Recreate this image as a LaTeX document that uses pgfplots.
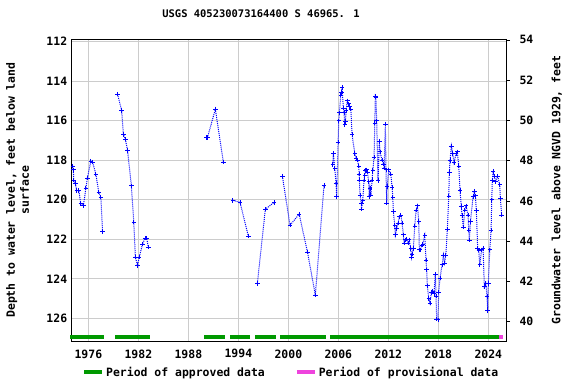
\documentclass[border=0pt]{standalone}
\usepackage{pgfplots}
\pgfplotsset{compat=1.18}
\usepackage{fontspec}
\setmainfont{DejaVu Sans Mono}
\setmonofont{DejaVu Sans Mono}
\definecolor{gridgray}{RGB}{204,204,204}
\definecolor{appgreen}{RGB}{0,153,0}
\definecolor{provpink}{RGB}{238,68,221}
\pgfplotsset{dataline/.style={blue, densely dotted, line width=1bp, mark=+, mark size=2.2bp, mark options={solid, line width=0.9bp}, forget plot}}
\begin{document}
\begin{tikzpicture}[x=1bp,y=1bp]
\useasboundingbox (0,0) rectangle (576,384);
\begin{axis}[
  at={(71.7bp,43bp)}, anchor=south west,
  scale only axis, width=434.3bp, height=301.7bp,
  xmin=1974.0, xmax=2026.12,
  ymin=111.88, ymax=127.15, y dir=reverse,
  xtick={1976,1982,...,2024},
  ytick={112,114,...,126},
  grid=major, grid style={gridgray, line width=0.8bp},
  axis line style={black, line width=1bp},
  tick align=outside, major tick length=0pt,
  /pgf/number format/assume math mode=true,
  /pgf/number format/1000 sep={},
  tick label style={font=\fontsize{11.5}{12}\selectfont\bfseries},
  xticklabel style={yshift=-5bp},
  yticklabel style={xshift=-1bp},
  ylabel={Depth to water level, feet below land\\surface},
  ylabel style={align=center, font=\fontsize{11.5}{14}\selectfont\bfseries, at={(axis description cs:-0.09,0.5)}},
  title={USGS 405230073164400 S 46965. 1},
  title style={font=\fontsize{10.5}{12}\selectfont\bfseries, at={(axis description cs:0.436,1)}, anchor=center, yshift=20bp},
  clip=false,
  legend columns=2,
  legend style={draw=none, fill=none, at={(axis description cs:0.0237,-0.104)}, anchor=west, font=\fontsize{11.5}{12}\selectfont\bfseries, inner sep=0pt, /tikz/every even column/.append style={column sep=28bp}},
  legend image code/.code={\draw[#1, solid, line width=4bp] (0bp,0bp) -- (18bp,0bp);},
  unbounded coords=jump,
]
% approved periods
\addplot[appgreen, solid, line width=4bp, mark=none, forget plot] coordinates {
(1973.8,126.95) (1977.9,126.95) (1978,nan)
(1979.2,126.95) (1983.4,126.95) (1984,nan)
(1989.9,126.95) (1992.4,126.95) (1992.7,nan)
(1993.0,126.95) (1995.4,126.95) (1995.7,nan)
(1996.0,126.95) (1998.5,126.95) (1998.7,nan)
(1999.0,126.95) (2004.5,126.95) (2004.7,nan)
(2005.0,126.95) (2025.3,126.95)
};
\addplot[provpink, solid, line width=4bp, mark=none, forget plot] coordinates {
(2025.3,126.95) (2025.7,126.95)
};
\addlegendimage{appgreen}
\addlegendentry{Period of approved data}
\addlegendimage{provpink}
\addlegendentry{Period of provisional data}
\addplot[dataline] coordinates {
(1974.13,118.29) (1974.2,118.49) (1974.25,119.0) (1974.44,119.17) (1974.6,119.54) (1974.85,119.54) (1975.1,120.21) (1975.4,120.31) (1975.7,119.42) (1975.88,118.91) (1976.3,118.04) (1976.5,118.09) (1976.9,118.71) (1977.25,119.62) (1977.5,119.87) (1977.7,121.6)
};
\addplot[dataline] coordinates {
(1979.5,114.65) (1980.0,115.49) (1980.2,116.69) (1980.44,116.94) (1980.7,117.5) (1981.16,119.29) (1981.45,121.14) (1981.64,122.91) (1981.9,123.32) (1982.1,122.91) (1982.5,122.25) (1982.8,121.95) (1983.0,121.95) (1983.2,122.4)
};
\addplot[dataline] coordinates {
(1990.2,116.84) (1990.3,116.84) (1991.24,115.42) (1992.2,118.1)
};
\addplot[dataline] coordinates {
(1993.33,120.03) (1994.2,120.13) (1995.2,121.85)
};
\addplot[dataline] coordinates {
(1996.28,124.23) (1997.24,120.48) (1998.3,120.13)
};
\addplot[dataline] coordinates {
(1999.28,118.8) (2000.2,121.29) (2001.3,120.73) (2002.3,122.66) (2003.24,124.83) (2004.28,119.27)
};
\addplot[dataline] coordinates {
(2005.33,118.22) (2005.4,117.65) (2005.57,118.41) (2005.72,119.17) (2005.8,119.84) (2005.97,117.08) (2006.05,116.0) (2006.12,115.6) (2006.3,114.7) (2006.36,114.58) (2006.44,114.31) (2006.6,115.37) (2006.68,115.6) (2006.77,116.2) (2006.84,116.05) (2006.93,115.5) (2007.08,114.99) (2007.25,115.15) (2007.32,115.29) (2007.5,115.42) (2007.64,116.69) (2007.97,117.65) (2008.13,117.9) (2008.28,117.99) (2008.45,118.29) (2008.5,118.71) (2008.52,119.0) (2008.6,119.76) (2008.76,120.21) (2008.77,120.48) (2008.93,120.05) (2009.08,119.0) (2009.17,118.75) (2009.24,118.53) (2009.4,118.49) (2009.48,118.61) (2009.65,119.09) (2009.7,119.84) (2009.8,119.42) (2009.9,119.76) (2010.05,119.0) (2010.13,118.53) (2010.29,117.85) (2010.37,116.13) (2010.44,114.75) (2010.5,114.8) (2010.6,116.0) (2010.76,119.03) (2010.92,117.06) (2011.0,117.57) (2011.24,117.99) (2011.4,118.19) (2011.5,118.4) (2011.64,116.17) (2011.72,118.49) (2011.8,120.18) (2011.85,119.34) (2012.05,118.49) (2012.29,118.7) (2012.45,119.37) (2012.53,119.87) (2012.6,120.6) (2012.77,121.28) (2012.84,121.78) (2013.0,121.45) (2013.17,121.19) (2013.32,120.86) (2013.5,120.77) (2013.65,121.19) (2013.8,121.78) (2013.9,122.2) (2014.04,122.03) (2014.2,122.0) (2014.37,122.2) (2014.5,122.03) (2014.69,122.46) (2014.77,122.91) (2014.85,122.75) (2015.0,122.46) (2015.17,121.33) (2015.33,120.52) (2015.5,120.31) (2015.65,121.11) (2015.72,122.54) (2015.8,122.54) (2016.05,122.29) (2016.13,122.24) (2016.37,121.8) (2016.52,123.05) (2016.6,123.55) (2016.68,124.36) (2016.85,124.99) (2017.0,125.24) (2017.16,124.7) (2017.33,124.65) (2017.48,124.74) (2017.64,123.77) (2017.72,124.87) (2017.8,126.05) (2017.96,126.08) (2018.04,124.68) (2018.2,123.97) (2018.45,123.3) (2018.6,122.8) (2018.75,123.2) (2018.9,122.8) (2019.08,121.49) (2019.25,119.81) (2019.32,118.63) (2019.4,118.02) (2019.56,117.28) (2019.72,117.65) (2019.88,118.12) (2020.12,117.68) (2020.28,117.57) (2020.45,118.3) (2020.6,119.54) (2020.76,120.35) (2020.84,120.77) (2021.0,121.39) (2021.17,120.52) (2021.32,120.31) (2021.56,120.77) (2021.65,121.53) (2021.72,122.04) (2021.85,121.1) (2022.17,119.84) (2022.32,119.59) (2022.45,119.8) (2022.56,120.55) (2022.72,122.46) (2022.85,122.55) (2022.97,123.3) (2023.2,122.54) (2023.37,122.46) (2023.52,124.4) (2023.69,124.23) (2023.84,124.9) (2023.92,125.61) (2024.0,124.23) (2024.17,122.54) (2024.33,121.53) (2024.41,120.01) (2024.48,119.03) (2024.57,118.58) (2024.72,118.8) (2024.88,119.09) (2025.12,118.8) (2025.37,119.25) (2025.44,119.93) (2025.6,120.77)
};
\end{axis}
\begin{axis}[
  at={(71.7bp,43bp)}, anchor=south west,
  scale only axis, width=434.3bp, height=301.7bp,
  xmin=1974.0, xmax=2026.12,
  ymin=39.04, ymax=54.03,
  axis y line*=right, axis x line=none,
  ytick={40,42,...,54},
  axis line style={black, line width=1bp},
  tick align=outside, major tick length=4bp,
  tick style={black, line width=0.8bp},
  /pgf/number format/assume math mode=true,
  tick label style={font=\fontsize{11.5}{12}\selectfont\bfseries},
  yticklabel style={xshift=6bp},
  ylabel={Groundwater level above NGVD 1929, feet},
  ylabel style={font=\fontsize{11.5}{12}\selectfont\bfseries, at={(axis description cs:1.097,0.5)}},
]
\addplot[draw=none, mark=none] coordinates {(2000,45)};
\end{axis}
\end{tikzpicture}
\end{document}
